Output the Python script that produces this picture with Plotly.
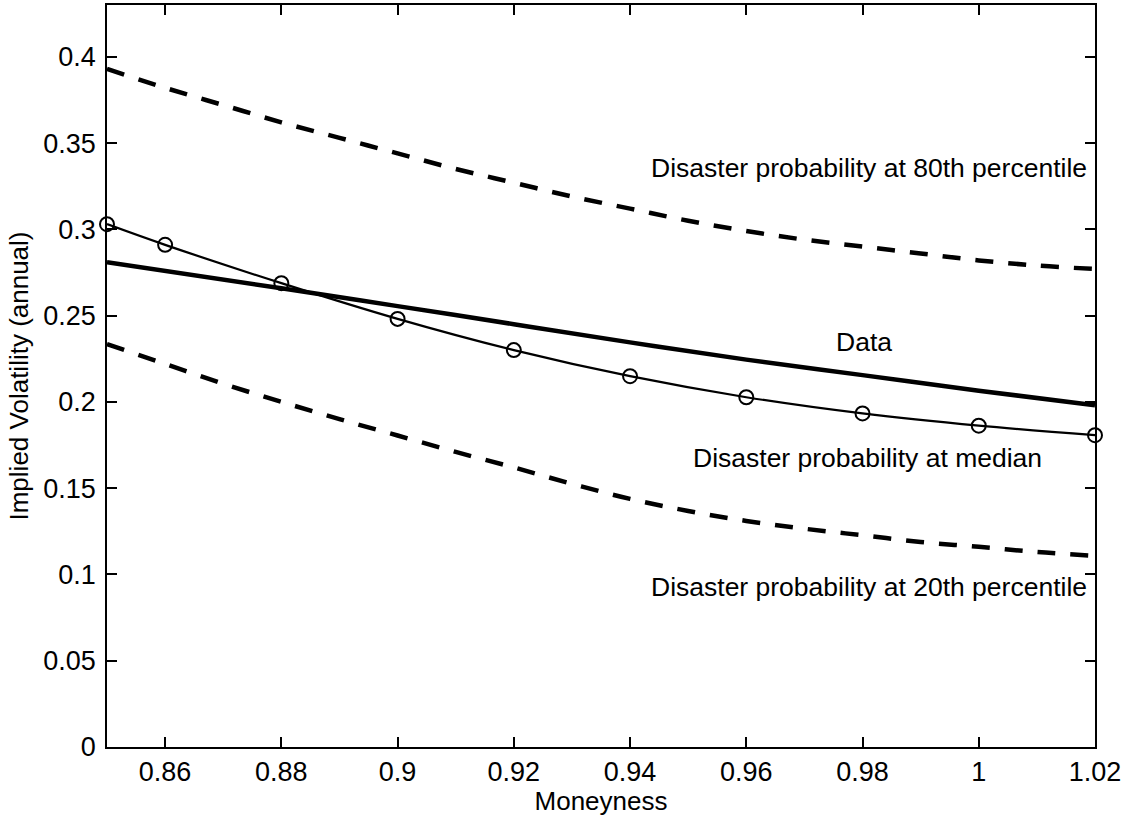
import plotly.graph_objects as go

# Moneyness grid for the model curves
moneyness = [0.85, 0.86, 0.87, 0.88, 0.89, 0.90, 0.91, 0.92, 0.93, 0.94,
             0.95, 0.96, 0.97, 0.98, 0.99, 1.00, 1.01, 1.02]

# Implied volatility with disaster probability at the 80th percentile
iv_p80 = [0.393, 0.382, 0.372, 0.362, 0.353, 0.344, 0.335, 0.327, 0.319, 0.312,
          0.305, 0.299, 0.294, 0.290, 0.286, 0.282, 0.279, 0.277]

# Implied volatility with disaster probability at the 20th percentile
iv_p20 = [0.2335, 0.222, 0.2105, 0.200, 0.190, 0.1805, 0.171, 0.162, 0.1525, 0.1438,
          0.1368, 0.1310, 0.1265, 0.1227, 0.1188, 0.1160, 0.1130, 0.1108]

# Disaster probability at the median (marked points)
moneyness_med = [0.85, 0.86, 0.88, 0.90, 0.92, 0.94, 0.96, 0.98, 1.00, 1.02]
iv_median = [0.303, 0.291, 0.2688, 0.2481, 0.230, 0.2149, 0.2027, 0.1933, 0.1862, 0.1807]

# Observed implied volatility
moneyness_data = [0.85, 0.88, 0.90, 0.92, 0.94, 0.96, 0.98, 1.00, 1.02]
iv_data = [0.281, 0.2658, 0.2555, 0.2450, 0.2345, 0.2245, 0.2155, 0.2065, 0.198]

# Axis ticks
x_tickvals = [0.86, 0.88, 0.90, 0.92, 0.94, 0.96, 0.98, 1.00, 1.02]
x_ticktext = ["0.86", "0.88", "0.9", "0.92", "0.94", "0.96", "0.98", "1", "1.02"]
y_tickvals = [0, 0.05, 0.10, 0.15, 0.20, 0.25, 0.30, 0.35, 0.40]
y_ticktext = ["0", "0.05", "0.1", "0.15", "0.2", "0.25", "0.3", "0.35", "0.4"]

# Curve labels: text, x, y, horizontal anchor
labels = [
    ("Disaster probability at 80th percentile", 0.9432, 0.3353, "left"),
    ("Data", 0.9802, 0.2346, "center"),
    ("Disaster probability at median", 0.9505, 0.1674, "left"),
    ("Disaster probability at 20th percentile", 0.9432, 0.0928, "left"),
]

FONT = "Liberation Sans, Arial, Helvetica, sans-serif"

fig = go.Figure()

fig.add_trace(go.Scatter(
    x=moneyness, y=iv_p80, mode="lines",
    line=dict(color="black", width=4.5, dash="18px,15px", shape="spline"),
    showlegend=False,
))
fig.add_trace(go.Scatter(
    x=moneyness, y=iv_p20, mode="lines",
    line=dict(color="black", width=4.5, dash="18px,15px", shape="spline"),
    showlegend=False,
))
fig.add_trace(go.Scatter(
    x=moneyness_data, y=iv_data, mode="lines",
    line=dict(color="black", width=4.5, shape="spline"),
    showlegend=False,
))
fig.add_trace(go.Scatter(
    x=moneyness_med, y=iv_median, mode="lines+markers",
    line=dict(color="black", width=2.2, shape="spline"),
    marker=dict(symbol="circle-open", size=14, color="black", line=dict(width=2, color="black")),
    cliponaxis=False,
    showlegend=False,
))

for text, lx, ly, anchor in labels:
    fig.add_annotation(
        x=lx, y=ly, xref="x", yref="y", text=text, showarrow=False,
        xanchor=anchor, yanchor="middle",
        font=dict(family=FONT, size=26.5, color="black"),
    )

axis_common = dict(
    showgrid=False, zeroline=False,
    showline=True, linecolor="black", linewidth=1.5,
    mirror="ticks", ticks="inside", ticklen=10, tickwidth=1.5, tickcolor="black",
    tickfont=dict(family=FONT, size=27, color="black"),
)

fig.update_xaxes(
    range=[0.85, 1.02], tickvals=x_tickvals, ticktext=x_ticktext,
    title=dict(text="Moneyness", font=dict(family=FONT, size=26, color="black"), standoff=3),
    ticklabelstandoff=0,
    **axis_common,
)
fig.update_yaxes(
    range=[0, 0.43], tickvals=y_tickvals, ticktext=y_ticktext,
    title=dict(text="Implied Volatility (annual)", font=dict(family=FONT, size=26, color="black"), standoff=7),
    ticklabelstandoff=4,
    **axis_common,
)

fig.update_layout(
    width=1122, height=816,
    margin=dict(l=107, r=27, t=5, b=69, autoexpand=False),
    plot_bgcolor="white", paper_bgcolor="white",
    font=dict(family=FONT, color="black"),
)

fig.write_html("out.html")
